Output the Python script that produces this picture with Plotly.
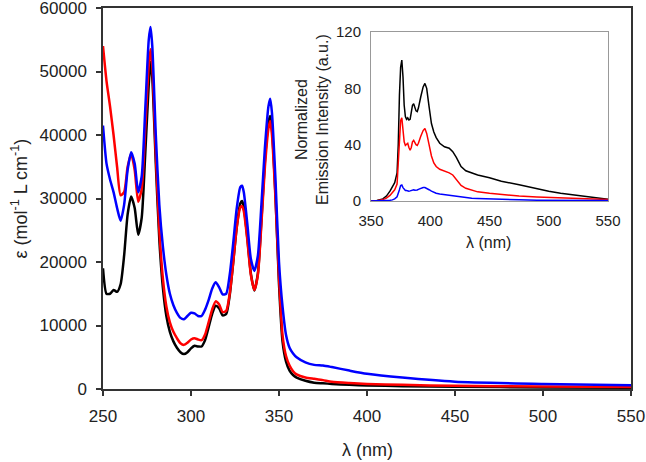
import plotly.graph_objects as go

# ---- Absorption data (main plot) ----
abs_wl = [250, 252, 254, 256, 258, 260, 262, 264, 266, 268, 270, 272, 274, 276, 277, 278,
          280, 282, 284, 286, 288, 290, 292, 294, 296, 298, 300, 302, 304, 306, 308, 310,
          312, 314, 316, 318, 320, 322, 324, 326, 328, 329, 330, 332, 334, 336, 338, 340,
          342, 344, 345, 346, 348, 350, 352, 354, 356, 358, 360, 365, 370, 375, 380, 390,
          400, 420, 450, 500, 550]

abs_black = [19000, 15000, 15000, 15600, 15300, 16500, 21000, 27500, 30300, 28500, 24300, 27000,
             37000, 48000, 51500, 49000, 35500, 23500, 16000, 11500, 9000, 7500, 6500, 5800,
             5500, 5800, 6400, 6800, 6700, 6700, 7700, 9700, 11800, 13100, 12700, 11600, 11800,
             14800, 20000, 25500, 29200, 29600, 28700, 23800, 18200, 15500, 18200, 26500, 36000,
             42000, 43000, 41000, 30500, 16500, 7500, 4300, 2900, 2200, 1800, 1300, 1000, 900,
             800, 650, 550, 450, 350, 250, 200]

abs_red = [54000, 48500, 44500, 40000, 35000, 30500, 31000, 35000, 37000, 34500, 29500, 31500,
           41000, 51000, 53500, 51000, 37000, 25000, 17500, 13000, 10500, 9000, 8000, 7200,
           6950, 7300, 7800, 8000, 7800, 7700, 8600, 10500, 12500, 13800, 13300, 12100, 12300,
           15000, 20000, 25500, 28600, 28800, 28000, 23500, 18000, 15600, 18000, 26000, 35000,
           41000, 42200, 40000, 30000, 17500, 8500, 5200, 3700, 2800, 2300, 1800, 1600, 1400,
           1150, 950, 800, 650, 500, 400, 300]

abs_blue = [41500, 35500, 33000, 31000, 28500, 26500, 29000, 34500, 37300, 35500, 31000, 33500,
            44000, 55000, 57000, 54000, 40000, 29000, 22500, 18000, 15000, 13200, 12000, 11200,
            11000, 11500, 12000, 11900, 11500, 11500, 12500, 14000, 15800, 16800, 16000, 14900,
            15000, 18000, 23000, 28500, 31800, 32000, 31000, 26000, 20500, 18600, 21000, 29000,
            38000, 44500, 45700, 43500, 33000, 20000, 13000, 8500, 6500, 5600, 5000, 4200, 3800,
            3700, 3450, 2900, 2400, 1800, 1150, 800, 600]

# ---- Emission data (inset) ----
em_wl = [350, 355, 360, 363, 366, 368, 370, 372, 373, 374, 375, 376, 377, 378, 379, 380, 381,
         382, 383, 384, 385, 386, 387, 388, 389, 390, 392, 394, 395.5, 397, 399, 401, 403, 405,
         408, 412, 416, 419, 422, 426, 430, 435, 440, 450, 460, 475, 490, 500, 510, 525, 540, 550]

em_black = [0, 0.3, 1.5, 3.5, 7, 10, 13, 20, 40, 75, 95, 100, 88, 68, 60, 58, 59, 57.5, 58, 63,
            68, 69, 66, 64, 63.5, 66, 74, 81, 83.5, 80, 67, 55, 49, 45, 41, 38.5, 37.5, 35, 31,
            24.5, 21.5, 20, 18.5, 16.5, 14, 11.5, 8.5, 7, 5.5, 3.7, 2, 1.2]

em_red = [0, 0.2, 1, 2, 4, 6, 8, 12, 25, 45, 57, 59, 50, 42, 39.5, 40, 41, 38, 36, 38, 42, 43,
          41, 40, 39.5, 41, 46, 50, 51.5, 48, 40, 32, 27, 24.5, 22.5, 21.5, 20, 18.5, 15.5, 11,
          9, 7.5, 6.5, 5.5, 4.5, 3.5, 2.8, 2.5, 2, 1.5, 1.2, 1]

em_blue = [0, 0, 0, 0.2, 0.5, 0.8, 1.5, 3, 5, 8, 11, 11.4, 9.5, 8, 7.5, 7.5, 7.2, 7, 7.2, 7.5,
           8, 8, 7.6, 7.5, 7.8, 8.3, 9, 9.5, 9.5, 9, 8, 7, 6, 5.5, 5, 4.5, 4.2, 4, 3.5, 3, 2.4,
           2, 1.8, 1.4, 1.1, 0.8, 0.6, 0.5, 0.4, 0.35, 0.3, 0.3]

main_xticks = [250, 300, 350, 400, 450, 500, 550]
main_yticks = [0, 10000, 20000, 30000, 40000, 50000, 60000]
inset_xticks = [350, 400, 450, 500, 550]
inset_yticks = [0, 40, 80, 120]

colors = {"black": "#000000", "red": "#ff0000", "blue": "#0000ff"}
FONT = "Liberation Sans, Arial, sans-serif"
TXT = "#222222"

fig = go.Figure()
for ys, c in [(abs_black, "black"), (abs_red, "red"), (abs_blue, "blue")]:
    fig.add_trace(go.Scatter(x=abs_wl, y=ys, mode="lines",
                             line=dict(color=colors[c], width=2.5, shape="spline", smoothing=0.6),
                             xaxis="x", yaxis="y", showlegend=False))
for ys, c in [(em_black, "black"), (em_red, "red"), (em_blue, "blue")]:
    fig.add_trace(go.Scatter(x=em_wl, y=ys, mode="lines",
                             line=dict(color=colors[c], width=1.5),
                             xaxis="x2", yaxis="y2", showlegend=False))

W, H = 646, 462
L, R, T, B = 103, 15, 8, 73
pw, ph = W - L - R, H - T - B


def px2paper_x(px):
    return (px - L) / pw


def px2paper_y(py):
    return (H - B - py) / ph


fig.update_layout(
    width=W, height=H,
    margin=dict(l=L, r=R, t=T, b=B, autoexpand=False),
    paper_bgcolor="white", plot_bgcolor="white",
    font=dict(family=FONT, color=TXT),
    xaxis=dict(domain=[0, 1], range=[250, 550], tickvals=main_xticks, ticks="outside",
               ticklen=5, tickwidth=1.5, tickcolor="#333", showline=True, linewidth=1.5,
               linecolor="#333", mirror=True, showgrid=False, zeroline=False, automargin=False,
               ticklabeloverflow="allow",
               tickfont=dict(size=17, family=FONT, color=TXT), ticklabelstandoff=6),
    yaxis=dict(domain=[0, 1], range=[0, 60000], tickvals=main_yticks, tickformat="d",
               ticks="outside", ticklen=5, tickwidth=1.5, tickcolor="#333", showline=True,
               linewidth=1.5, linecolor="#333", mirror=True, showgrid=False, zeroline=False,
               automargin=False, ticklabeloverflow="allow",
               tickfont=dict(size=17, family=FONT, color=TXT), ticklabelstandoff=6),
    xaxis2=dict(domain=[px2paper_x(371), px2paper_x(608)], anchor="y2", range=[350, 550],
                tickvals=inset_xticks, ticks="", showline=True, linewidth=1, linecolor="#999",
                mirror=True, showgrid=False, zeroline=False, automargin=False,
                tickfont=dict(size=15, family=FONT, color=TXT), ticklabelstandoff=6),
    yaxis2=dict(domain=[px2paper_y(201), px2paper_y(32)], anchor="x2", range=[0, 120],
                tickvals=inset_yticks, ticks="", showline=True, linewidth=1, linecolor="#999",
                mirror=True, showgrid=False, zeroline=False, automargin=False,
                tickfont=dict(size=15, family=FONT, color=TXT), ticklabelstandoff=6),
    annotations=[
        dict(text="λ (nm)", x=0.5, y=px2paper_y(450), xref="paper", yref="paper",
             showarrow=False, font=dict(size=18, family=FONT, color=TXT),
             xanchor="center", yanchor="middle"),
        dict(text="ε (mol<sup>-1</sup> L cm<sup>-1</sup>)", x=px2paper_x(20), y=0.5,
             xref="paper", yref="paper", showarrow=False, textangle=-90,
             font=dict(size=18, family=FONT, color=TXT), xanchor="center", yanchor="middle"),
        dict(text="Normalized<br>Emission Intensity (a.u.)", x=px2paper_x(312),
             y=px2paper_y(120), xref="paper", yref="paper", showarrow=False, textangle=-90,
             font=dict(size=16, family=FONT, color=TXT), xanchor="center", yanchor="middle"),
        dict(text="λ (nm)", x=px2paper_x(488), y=px2paper_y(242), xref="paper", yref="paper",
             showarrow=False, font=dict(size=16, family=FONT, color=TXT),
             xanchor="center", yanchor="middle"),
    ],
)

fig.write_html("out.html", config={"displayModeBar": False},
               post_script="document.body.style.margin='0';document.body.style.overflow='hidden';")
